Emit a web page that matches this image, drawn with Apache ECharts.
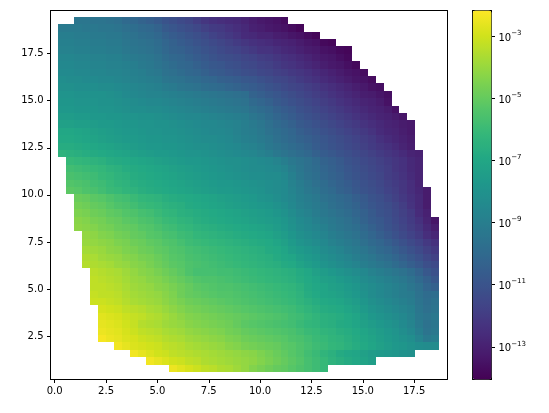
<!DOCTYPE html>
<html>
<head>
<meta charset="utf-8">
<style>html,body{margin:0;padding:0;background:#fff}#chart{width:549px;height:413px}</style>
<script src="https://cdn.jsdelivr.net/npm/echarts@6/dist/echarts.min.js"></script>
</head>
<body>
<div id="chart"></div>
<script>
// Tick positions
const xTicks = [0, 2.5, 5, 7.5, 10, 12.5, 15, 17.5];
const yTicks = [2.5, 5, 7.5, 10, 12.5, 15, 17.5];
const colorbarExponents = [-3, -5, -7, -9, -11, -13];

// First populated column of each row, top row first
const rowStart = [2,0,0,0,0,0,0,0,0,0,0,0,0,0,0,0,0,0,0,
  1,1,1,1,1,2,2,2,2,2,3,3,3,3,3,4,4,4,4,4,5,5,5,5,5,7,9,11,14];

// log10 of the field, one list per row from the top, starting at rowStart
const logField = [
[-9.4,-9.4,-9.5,-9.5,-9.6,-9.7,-10,-10.1,-10.3,-10.5,-10.7,-11,-11.2,-11.4,-11.6,-11.9,-12.2,-12.4,-12.5,-12.6,-12.7,-12.9,-13.1,-13.3,-13.4,-13.5,-13.7],
[-9.2,-9.2,-9.2,-9.3,-9.3,-9.4,-9.4,-9.5,-9.7,-9.8,-10,-10.1,-10.3,-10.7,-10.9,-11.1,-11.3,-11.5,-11.8,-12,-12.1,-12.3,-12.5,-12.7,-13,-13.1,-13.3,-13.4,-13.5,-13.7,-13.9],
[-9,-9,-9.1,-9.1,-9.2,-9.2,-9.3,-9.3,-9.5,-9.6,-9.8,-9.9,-10.1,-10.4,-10.6,-10.8,-11,-11.2,-11.4,-11.7,-11.9,-12.1,-12.3,-12.6,-12.7,-12.9,-12.9,-13.1,-13.2,-13.4,-13.5,-13.7,-13.9],
[-8.9,-8.9,-9,-9,-9.1,-9.1,-9.2,-9.2,-9.4,-9.5,-9.6,-9.7,-9.9,-10.2,-10.4,-10.6,-10.8,-11,-11.2,-11.4,-11.6,-11.8,-12,-12.2,-12.4,-12.5,-12.6,-12.8,-12.9,-13,-13.2,-13.4,-13.5,-13.8,-13.9],
[-8.8,-8.8,-8.9,-8.9,-9,-9,-9.1,-9.1,-9.3,-9.4,-9.5,-9.6,-9.8,-10.1,-10.3,-10.4,-10.6,-10.8,-11,-11.2,-11.4,-11.6,-11.7,-11.9,-12.1,-12.3,-12.3,-12.5,-12.7,-12.8,-13,-13.2,-13.3,-13.5,-13.6,-13.8,-13.9],
[-8.6,-8.6,-8.7,-8.7,-8.8,-8.8,-8.9,-8.9,-9.1,-9.2,-9.3,-9.4,-9.6,-9.9,-10.1,-10.2,-10.4,-10.6,-10.8,-11,-11.2,-11.3,-11.4,-11.6,-11.7,-11.9,-12,-12.2,-12.4,-12.5,-12.7,-12.9,-13.1,-13.3,-13.4,-13.6,-13.8],
[-8.5,-8.5,-8.6,-8.6,-8.7,-8.7,-8.8,-8.8,-8.9,-9,-9.2,-9.3,-9.5,-9.7,-9.9,-10.1,-10.2,-10.4,-10.6,-10.8,-10.9,-11.1,-11.2,-11.4,-11.5,-11.7,-11.8,-12,-12.2,-12.3,-12.5,-12.7,-12.9,-13.1,-13.3,-13.4,-13.6,-13.8],
[-8.4,-8.4,-8.5,-8.5,-8.6,-8.6,-8.7,-8.7,-8.8,-8.9,-9,-9.2,-9.3,-9.6,-9.7,-9.9,-10.1,-10.2,-10.4,-10.6,-10.7,-10.9,-11,-11.2,-11.3,-11.5,-11.6,-11.8,-11.9,-12.1,-12.2,-12.4,-12.6,-12.8,-13,-13.2,-13.4,-13.5,-13.7],
[-8.2,-8.3,-8.3,-8.4,-8.4,-8.5,-8.5,-8.6,-8.7,-8.8,-8.9,-9,-9.1,-9.4,-9.5,-9.6,-9.8,-9.9,-10.1,-10.2,-10.4,-10.5,-10.6,-10.8,-10.9,-11.1,-11.3,-11.5,-11.6,-11.8,-12,-12.2,-12.4,-12.6,-12.8,-13,-13.2,-13.4,-13.5,-13.7],
[-8.1,-8.1,-8.2,-8.2,-8.2,-8.3,-8.3,-8.4,-8.5,-8.6,-8.7,-8.8,-8.9,-9.1,-9.2,-9.4,-9.5,-9.6,-9.8,-9.9,-10,-10.2,-10.3,-10.5,-10.6,-10.8,-11,-11.2,-11.4,-11.6,-11.7,-11.9,-12.1,-12.3,-12.5,-12.7,-12.9,-13.1,-13.3,-13.5,-13.6],
[-7.9,-7.9,-8,-8,-8,-8,-8.1,-8.2,-8.4,-8.5,-8.6,-8.7,-8.7,-8.8,-8.9,-9,-9.1,-9.2,-9.3,-9.4,-9.5,-9.6,-9.7,-9.8,-10.3,-10.5,-10.7,-10.9,-11.1,-11.3,-11.5,-11.7,-11.9,-12.1,-12.3,-12.5,-12.7,-12.9,-13.1,-13.2,-13.4,-13.6],
[-7.8,-7.8,-7.9,-7.9,-7.9,-8,-8,-8.1,-8.2,-8.3,-8.4,-8.5,-8.5,-8.6,-8.7,-8.8,-8.9,-9,-9.1,-9.2,-9.3,-9.4,-9.5,-9.6,-10,-10.2,-10.4,-10.7,-10.9,-11.1,-11.3,-11.5,-11.7,-11.9,-12.1,-12.3,-12.5,-12.7,-12.9,-13,-13.2,-13.5],
[-7.7,-7.7,-7.8,-7.8,-7.8,-7.9,-7.9,-8,-8.1,-8.2,-8.2,-8.3,-8.3,-8.4,-8.5,-8.6,-8.7,-8.8,-8.9,-9,-9.1,-9.2,-9.3,-9.4,-9.7,-9.9,-10.1,-10.4,-10.6,-10.8,-11.1,-11.3,-11.5,-11.7,-11.9,-12.1,-12.3,-12.5,-12.7,-12.9,-13,-13.2,-13.5],
[-7.5,-7.5,-7.6,-7.6,-7.7,-7.7,-7.8,-7.8,-7.9,-7.9,-8,-8,-8.1,-8.2,-8.3,-8.4,-8.5,-8.5,-8.6,-8.7,-8.8,-8.9,-9,-9.1,-9.4,-9.6,-9.9,-10.2,-10.4,-10.6,-10.9,-11.1,-11.3,-11.5,-11.7,-11.9,-12.1,-12.3,-12.5,-12.7,-12.9,-13,-13.2,-13.4],
[-7.3,-7.3,-7.4,-7.4,-7.5,-7.6,-7.6,-7.7,-7.8,-7.8,-7.9,-7.9,-8,-8,-8.1,-8.2,-8.3,-8.4,-8.5,-8.5,-8.6,-8.7,-8.8,-9,-9.2,-9.4,-9.7,-10,-10.2,-10.4,-10.7,-10.9,-11.1,-11.3,-11.5,-11.7,-11.9,-12.1,-12.3,-12.5,-12.7,-12.9,-13,-13.2,-13.3],
[-7,-7,-7.1,-7.2,-7.3,-7.4,-7.5,-7.6,-7.7,-7.7,-7.8,-7.9,-7.9,-8,-8,-8.1,-8.2,-8.3,-8.4,-8.5,-8.5,-8.6,-8.8,-9,-9.1,-9.3,-9.6,-9.8,-10,-10.2,-10.5,-10.7,-10.9,-11.1,-11.3,-11.5,-11.7,-11.9,-12.1,-12.3,-12.6,-12.8,-12.9,-13.1,-13.3],
[-6.9,-6.9,-7,-7.1,-7.2,-7.3,-7.4,-7.5,-7.6,-7.6,-7.7,-7.8,-7.8,-7.9,-7.9,-8,-8.1,-8.2,-8.3,-8.3,-8.4,-8.5,-8.7,-8.9,-9,-9.2,-9.4,-9.7,-9.9,-10.1,-10.3,-10.5,-10.7,-10.9,-11.1,-11.3,-11.5,-11.7,-11.9,-12.1,-12.4,-12.6,-12.8,-13,-13.2],
[-6.7,-6.7,-6.8,-6.9,-7,-7.1,-7.2,-7.3,-7.4,-7.5,-7.6,-7.7,-7.7,-7.8,-7.8,-7.9,-8,-8.1,-8.1,-8.2,-8.3,-8.4,-8.5,-8.7,-8.8,-9,-9.3,-9.5,-9.7,-9.9,-10.1,-10.3,-10.6,-10.8,-11,-11.2,-11.4,-11.6,-11.8,-12,-12.2,-12.4,-12.6,-12.9,-13.1],
[-6.4,-6.5,-6.6,-6.7,-6.8,-6.9,-7,-7.1,-7.2,-7.3,-7.4,-7.5,-7.6,-7.6,-7.7,-7.8,-7.9,-7.9,-8,-8.1,-8.2,-8.3,-8.4,-8.5,-8.6,-8.8,-9,-9.3,-9.5,-9.7,-9.9,-10.1,-10.4,-10.6,-10.8,-11,-11.2,-11.4,-11.6,-11.8,-12,-12.2,-12.4,-12.6,-12.9,-13],
[-6.1,-6.2,-6.3,-6.4,-6.5,-6.7,-6.8,-6.9,-7,-7.1,-7.2,-7.3,-7.4,-7.5,-7.6,-7.7,-7.7,-7.8,-7.9,-8,-8.1,-8.1,-8.2,-8.3,-8.4,-8.5,-8.7,-9,-9.3,-9.5,-9.7,-10,-10.3,-10.5,-10.7,-11,-11.2,-11.4,-11.6,-11.8,-12,-12.2,-12.4,-12.7,-12.9],
[-5.8,-5.9,-6,-6.1,-6.2,-6.4,-6.5,-6.7,-6.8,-6.9,-7,-7.1,-7.2,-7.3,-7.4,-7.5,-7.6,-7.7,-7.8,-7.9,-8,-8.1,-8.2,-8.3,-8.3,-8.4,-8.5,-8.7,-9.1,-9.4,-9.7,-9.9,-10.2,-10.4,-10.6,-10.9,-11.1,-11.3,-11.5,-11.7,-11.9,-12.2,-12.4,-12.7,-12.9],
[-5.6,-5.7,-5.8,-5.9,-6.1,-6.2,-6.4,-6.5,-6.7,-6.8,-6.9,-7,-7.1,-7.2,-7.3,-7.4,-7.5,-7.6,-7.7,-7.8,-7.9,-8,-8.1,-8.2,-8.2,-8.3,-8.3,-8.5,-8.9,-9.3,-9.6,-9.8,-10.1,-10.3,-10.5,-10.8,-11,-11.2,-11.4,-11.6,-11.9,-12.1,-12.3,-12.6,-12.9],
[-5.4,-5.5,-5.6,-5.8,-5.9,-6.1,-6.3,-6.4,-6.6,-6.7,-6.8,-6.9,-7,-7.1,-7.2,-7.3,-7.4,-7.5,-7.6,-7.7,-7.7,-7.8,-7.9,-8,-8.1,-8.2,-8.3,-8.4,-8.8,-9.1,-9.4,-9.7,-9.9,-10.2,-10.4,-10.6,-10.9,-11.1,-11.3,-11.5,-11.8,-12,-12.2,-12.5,-12.9],
[-5.2,-5.3,-5.5,-5.6,-5.8,-6,-6.1,-6.3,-6.4,-6.6,-6.7,-6.8,-6.9,-7,-7.1,-7.2,-7.3,-7.4,-7.5,-7.6,-7.6,-7.7,-7.8,-7.9,-8,-8.2,-8.3,-8.4,-8.7,-9,-9.3,-9.5,-9.8,-10,-10.3,-10.5,-10.8,-11,-11.2,-11.4,-11.7,-11.9,-12.2,-12.5,-12.8,-13.2],
[-4.9,-5,-5.2,-5.3,-5.5,-5.7,-5.8,-6,-6.2,-6.3,-6.4,-6.6,-6.7,-6.8,-6.9,-7,-7.1,-7.2,-7.3,-7.4,-7.5,-7.6,-7.7,-7.9,-8,-8.2,-8.4,-8.6,-8.9,-9.1,-9.3,-9.6,-9.8,-10,-10.2,-10.5,-10.7,-11,-11.2,-11.5,-11.8,-12.1,-12.4,-12.7,-13.2],
[-4.7,-4.8,-5,-5.1,-5.3,-5.5,-5.6,-5.8,-6,-6.1,-6.2,-6.4,-6.5,-6.6,-6.8,-6.9,-7,-7.1,-7.2,-7.3,-7.4,-7.5,-7.6,-7.7,-7.8,-8,-8.2,-8.5,-8.8,-9,-9.2,-9.4,-9.7,-9.9,-10.1,-10.3,-10.6,-10.9,-11.1,-11.3,-11.6,-11.9,-12.3,-12.7,-13.2],
[-4.5,-4.6,-4.8,-4.9,-5.1,-5.2,-5.4,-5.5,-5.7,-5.8,-6,-6.2,-6.3,-6.5,-6.6,-6.7,-6.8,-6.9,-7,-7.1,-7.2,-7.3,-7.4,-7.5,-7.6,-7.8,-8,-8.3,-8.6,-8.8,-9.1,-9.3,-9.5,-9.7,-9.9,-10.2,-10.4,-10.7,-11,-11.2,-11.5,-11.8,-12.1,-12.6,-13],
[-4.3,-4.4,-4.6,-4.7,-4.9,-5,-5.2,-5.3,-5.5,-5.6,-5.8,-6,-6.1,-6.3,-6.4,-6.6,-6.7,-6.8,-6.9,-7,-7.1,-7.2,-7.3,-7.4,-7.5,-7.6,-7.8,-8.1,-8.4,-8.6,-8.9,-9.1,-9.3,-9.5,-9.7,-10,-10.3,-10.6,-10.8,-11.1,-11.4,-11.7,-12,-12.4,-12.9,-13.4],
[-4.2,-4.3,-4.4,-4.6,-4.7,-4.9,-5,-5.1,-5.3,-5.4,-5.6,-5.8,-5.9,-6.1,-6.2,-6.4,-6.5,-6.6,-6.7,-6.8,-6.9,-7,-7.1,-7.2,-7.3,-7.5,-7.7,-8,-8.3,-8.5,-8.7,-8.9,-9.2,-9.4,-9.6,-9.8,-10.1,-10.4,-10.7,-11,-11.3,-11.6,-11.9,-12.2,-12.7,-13.1],
[-4.1,-4.2,-4.4,-4.5,-4.7,-4.8,-5,-5.1,-5.3,-5.4,-5.6,-5.7,-5.9,-6,-6.2,-6.3,-6.4,-6.5,-6.6,-6.7,-6.8,-6.9,-7,-7.1,-7.3,-7.5,-7.8,-8.1,-8.3,-8.5,-8.7,-9,-9.2,-9.4,-9.6,-9.9,-10.2,-10.5,-10.8,-11.1,-11.4,-11.7,-12,-12.5,-12.8],
[-4,-4.1,-4.2,-4.3,-4.5,-4.6,-4.8,-4.9,-5.1,-5.2,-5.4,-5.5,-5.7,-5.9,-6,-6.1,-6.2,-6.3,-6.4,-6.5,-6.6,-6.7,-6.8,-6.9,-7.1,-7.3,-7.6,-7.9,-8.1,-8.3,-8.5,-8.8,-9,-9.2,-9.4,-9.7,-10,-10.2,-10.5,-10.8,-11.1,-11.4,-11.7,-12.1,-12.4],
[-3.8,-3.9,-4,-4.2,-4.3,-4.5,-4.6,-4.8,-4.9,-5.1,-5.2,-5.4,-5.5,-5.7,-5.8,-5.9,-6,-6.1,-6.2,-6.3,-6.4,-6.5,-6.6,-6.8,-6.9,-7.1,-7.4,-7.6,-7.8,-8,-8.3,-8.5,-8.7,-9,-9.2,-9.4,-9.7,-10,-10.2,-10.5,-10.8,-11.1,-11.4,-11.8,-12.1],
[-3.6,-3.7,-3.9,-4,-4.1,-4.3,-4.4,-4.6,-4.7,-4.9,-5.1,-5.3,-5.4,-5.6,-5.7,-5.8,-5.9,-6,-6.1,-6.2,-6.3,-6.4,-6.5,-6.6,-6.8,-7,-7.1,-7.4,-7.6,-7.8,-8.1,-8.3,-8.5,-8.7,-9,-9.2,-9.4,-9.7,-9.9,-10.2,-10.5,-10.8,-11.1,-11.5,-11.8],
[-3.5,-3.6,-3.7,-3.8,-4,-4.1,-4.3,-4.4,-4.6,-4.8,-5,-5.2,-5.3,-5.5,-5.6,-5.7,-5.8,-5.9,-6,-6.1,-6.2,-6.3,-6.4,-6.5,-6.6,-6.8,-6.9,-7.2,-7.4,-7.6,-7.9,-8.1,-8.3,-8.5,-8.7,-9,-9.2,-9.4,-9.6,-9.9,-10.2,-10.5,-10.8,-11.2,-11.4],
[-3.4,-3.5,-3.6,-3.7,-3.9,-4.1,-4.3,-4.4,-4.6,-4.8,-5,-5.2,-5.5,-5.7,-5.7,-5.7,-5.8,-5.8,-5.9,-6,-6.1,-6.2,-6.3,-6.4,-6.5,-6.6,-6.8,-7,-7.3,-7.5,-7.7,-7.9,-8.1,-8.3,-8.5,-8.8,-9,-9.2,-9.4,-9.6,-9.9,-10.3,-10.8,-11.1],
[-3.3,-3.4,-3.5,-3.6,-3.8,-4,-4.1,-4.3,-4.4,-4.6,-4.8,-5,-5.2,-5.4,-5.5,-5.5,-5.6,-5.7,-5.8,-5.9,-6,-6.1,-6.2,-6.3,-6.4,-6.5,-6.7,-6.9,-7.1,-7.3,-7.4,-7.6,-7.8,-8,-8.3,-8.5,-8.7,-8.9,-9.1,-9.3,-9.6,-10,-10.4,-10.8],
[-3.3,-3.3,-3.4,-3.5,-3.7,-3.9,-4,-4.1,-4.3,-4.4,-4.6,-4.8,-5,-5.2,-5.3,-5.4,-5.5,-5.5,-5.6,-5.7,-5.8,-5.9,-6,-6.1,-6.2,-6.3,-6.5,-6.8,-7,-7.1,-7.3,-7.4,-7.6,-7.8,-8.1,-8.3,-8.5,-8.7,-8.9,-9.1,-9.4,-9.7,-10.2,-10.4],
[-3.2,-3.3,-3.3,-3.4,-3.6,-3.8,-3.9,-4,-4.1,-4.3,-4.5,-4.8,-5,-5.1,-5.2,-5.3,-5.4,-5.4,-5.5,-5.6,-5.7,-5.8,-5.9,-6,-6.1,-6.2,-6.4,-6.7,-6.9,-7.1,-7.2,-7.3,-7.5,-7.7,-8,-8.3,-8.5,-8.7,-8.9,-9.1,-9.2,-9.6,-9.9,-9.8],
[-3.1,-3.1,-3.2,-3.3,-3.5,-3.7,-3.8,-3.9,-4,-4.2,-4.4,-4.6,-4.8,-4.9,-5,-5.1,-5.2,-5.3,-5.4,-5.5,-5.6,-5.7,-5.8,-5.9,-6,-6.1,-6.3,-6.5,-6.7,-6.9,-7,-7.1,-7.3,-7.5,-7.8,-8.1,-8.3,-8.5,-8.7,-8.9,-9.1,-9.5,-9.8,-9.6],
[-2.9,-3,-3.1,-3.3,-3.4,-3.5,-3.7,-3.8,-4,-4.2,-4.4,-4.6,-4.7,-4.8,-4.9,-5,-5.1,-5.2,-5.3,-5.4,-5.5,-5.6,-5.7,-5.8,-5.9,-6.1,-6.3,-6.5,-6.7,-6.8,-6.9,-7.1,-7.3,-7.6,-7.9,-8.1,-8.3,-8.5,-8.7,-8.9,-9.4,-9.7,-9.5],
[-2.7,-2.8,-2.9,-3.1,-3.2,-3.3,-3.5,-3.6,-3.8,-4,-4.2,-4.4,-4.5,-4.6,-4.7,-4.8,-4.9,-5,-5.1,-5.2,-5.3,-5.4,-5.5,-5.6,-5.8,-5.9,-6.1,-6.3,-6.5,-6.6,-6.7,-6.9,-7.1,-7.4,-7.7,-7.9,-8.1,-8.3,-8.5,-8.8,-9.3,-9.5,-9.3],
[-2.6,-2.7,-2.8,-3,-3.2,-3.5,-3.6,-3.7,-3.9,-4,-4.1,-4.3,-4.4,-4.5,-4.6,-4.7,-4.8,-5,-5.2,-5.3,-5.4,-5.5,-5.6,-5.7,-5.8,-6,-6.2,-6.3,-6.5,-6.6,-6.8,-6.9,-7.1,-7.3,-7.5,-7.7,-7.9,-8.1,-8.4,-8.7,-9.2,-9.6,-9.4],
[-2.5,-2.6,-2.7,-2.9,-3.1,-3.3,-3.4,-3.5,-3.7,-3.8,-3.9,-4.1,-4.2,-4.3,-4.4,-4.5,-4.7,-4.8,-5,-5.1,-5.2,-5.3,-5.4,-5.5,-5.6,-5.8,-6,-6.1,-6.3,-6.4,-6.6,-6.7,-6.9,-7.1,-7.3,-7.5,-7.7,-7.9,-8.2,-8.5,-9,-9.5,-9.3],
[-2.3,-2.5,-2.6,-2.8,-2.9,-3.1,-3.2,-3.3,-3.5,-3.6,-3.7,-3.9,-4,-4.1,-4.2,-4.3,-4.5,-4.6,-4.8,-4.9,-5,-5.1,-5.2,-5.3,-5.5,-5.6,-5.8,-6,-6.1,-6.3,-6.4,-6.6,-6.8,-7,-7.2,-7.4,-7.6,-7.8,-8,-8.2,-8.7,-9.2,-9],
[-2.4,-2.6,-2.8,-2.9,-3,-3.1,-3.3,-3.4,-3.5,-3.7,-3.8,-3.9,-4,-4.1,-4.3,-4.4,-4.6,-4.7,-4.8,-4.9,-5,-5.2,-5.3,-5.5,-5.7,-5.9,-6,-6.2,-6.3,-6.5,-6.7,-6.9,-7.1,-7.3,-7.5,-7.7,-7.8,-8,-8.2,-8.3,-8.3],
[-2.4,-2.6,-2.8,-3,-3.1,-3.3,-3.4,-3.5,-3.6,-3.7,-3.8,-3.9,-4,-4.1,-4.2,-4.3,-4.5,-4.7,-4.9,-5.1,-5.3,-5.5,-5.8,-6,-6.3,-6.5,-6.8,-7,-7.1,-7.3,-7.5,-7.6,-7.7,-7.8,-8,-8.1],
[-2.4,-2.6,-2.8,-3,-3.1,-3.3,-3.4,-3.6,-3.7,-3.8,-3.9,-4,-4.1,-4.2,-4.4,-4.6,-4.8,-5,-5.2,-5.4,-5.7,-5.9,-6.1,-6.4,-6.6,-6.8,-7,-7.2,-7.4],
[-2.5,-2.7,-2.9,-3.1,-3.3,-3.4,-3.6,-3.7,-3.9,-4.1,-4.4,-4.6,-4.8,-5,-5.1,-5.3,-5.5,-5.7,-5.9,-6.1]
];

// Colormap stops and the colour range in log10 units
const viridis = ['#440154','#481a6c','#472f7d','#414487','#39568c','#31688e','#2a788e','#23888e',
  '#1f988b','#22a884','#35b779','#54c568','#7ad151','#a5db36','#d2e21b','#fde725'];
const logMin = -14.05;
const logMax = -2.18;

// Mesh placement in axis units
const meshLeft = 0.18;
const meshTop = 19.44;
const cellW = 0.3862;
const cellH = 0.3923;

const cells = [];
logField.forEach((row, r) => {
  row.forEach((v, i) => {
    const c = rowStart[r] + i;
    cells.push([meshLeft + c * cellW, meshTop - r * cellH, v]);
  });
});

const font = 'DejaVu Sans';
const spine = { show: true, onZero: false, lineStyle: { color: '#000', width: 1 } };
const tickStyle = { show: true, length: 3.5, lineStyle: { color: '#000', width: 1 } };
const noTicks = { show: false };

const chart = echarts.init(document.getElementById('chart'), null, { renderer: 'canvas' });
chart.setOption({
  animation: false,
  backgroundColor: '#fff',
  grid: [
    { left: 50.5, top: 10.5, width: 396.5, height: 369 },
    { left: 472.7, top: 10.5, width: 18.8, height: 369 }
  ],
  visualMap: {
    type: 'continuous',
    seriesIndex: 0,
    dimension: 2,
    min: logMin,
    max: logMax,
    inRange: { color: viridis },
    left: 472.7,
    top: 10.5,
    padding: 0,
    itemWidth: 18.8,
    itemHeight: 369,
    text: ['', ''],
    textGap: 0,
    calculable: false,
    hoverLink: false
  },
  xAxis: [
    {
      gridIndex: 0, type: 'value', position: 'bottom', min: -0.205, max: 19.1,
      axisLine: spine, splitLine: { show: false },
      axisTick: Object.assign({ customValues: xTicks }, tickStyle),
      axisLabel: { customValues: xTicks, margin: 7, color: '#000', fontFamily: font, fontSize: 10,
        formatter: v => v.toFixed(1) }
    },
    { gridIndex: 0, type: 'value', position: 'top', min: -0.205, max: 19.1,
      axisLine: spine, axisTick: noTicks, axisLabel: { show: false }, splitLine: { show: false } },
    { gridIndex: 1, type: 'value', position: 'bottom', min: 0, max: 1,
      axisLine: spine, axisTick: noTicks, axisLabel: { show: false }, splitLine: { show: false } },
    { gridIndex: 1, type: 'value', position: 'top', min: 0, max: 1,
      axisLine: spine, axisTick: noTicks, axisLabel: { show: false }, splitLine: { show: false } }
  ],
  yAxis: [
    {
      gridIndex: 0, type: 'value', position: 'left', min: 0.208, max: 19.78,
      axisLine: spine, splitLine: { show: false },
      axisTick: Object.assign({ customValues: yTicks }, tickStyle),
      axisLabel: { customValues: yTicks, margin: 7, color: '#000', fontFamily: font, fontSize: 10,
        formatter: v => v.toFixed(1) }
    },
    { gridIndex: 0, type: 'value', position: 'right', min: 0.208, max: 19.78,
      axisLine: spine, axisTick: noTicks, axisLabel: { show: false }, splitLine: { show: false } },
    { gridIndex: 1, type: 'value', position: 'left', min: logMin, max: logMax,
      axisLine: spine, axisTick: noTicks, axisLabel: { show: false }, splitLine: { show: false } },
    {
      gridIndex: 1, type: 'value', position: 'right', min: logMin, max: logMax,
      axisLine: spine, splitLine: { show: false },
      axisTick: Object.assign({ customValues: colorbarExponents }, tickStyle),
      axisLabel: {
        customValues: colorbarExponents, margin: 7, color: '#000', fontFamily: font,
        formatter: v => '{b|10}{s|\u2212' + Math.abs(v) + '}',
        rich: {
          b: { fontFamily: font, fontSize: 10, color: '#000', padding: [4, 0, 0, 0] },
          s: { fontFamily: font, fontSize: 7, color: '#000', padding: [0, 0, 6, 0] }
        }
      }
    }
  ],
  series: [
    {
      type: 'custom',
      xAxisIndex: 0,
      yAxisIndex: 0,
      data: cells,
      encode: { x: 0, y: 1 },
      renderItem: (params, api) => {
        const a = api.coord([api.value(0), api.value(1)]);
        const b = api.coord([api.value(0) + cellW, api.value(1) - cellH]);
        const x0 = Math.round(a[0]), y0 = Math.round(a[1]);
        return {
          type: 'rect',
          shape: { x: x0, y: y0, width: Math.round(b[0]) - x0, height: Math.round(b[1]) - y0 },
          style: { fill: api.visual('color') }
        };
      },
      silent: true
    }
  ]
});
</script>
</body>
</html>
